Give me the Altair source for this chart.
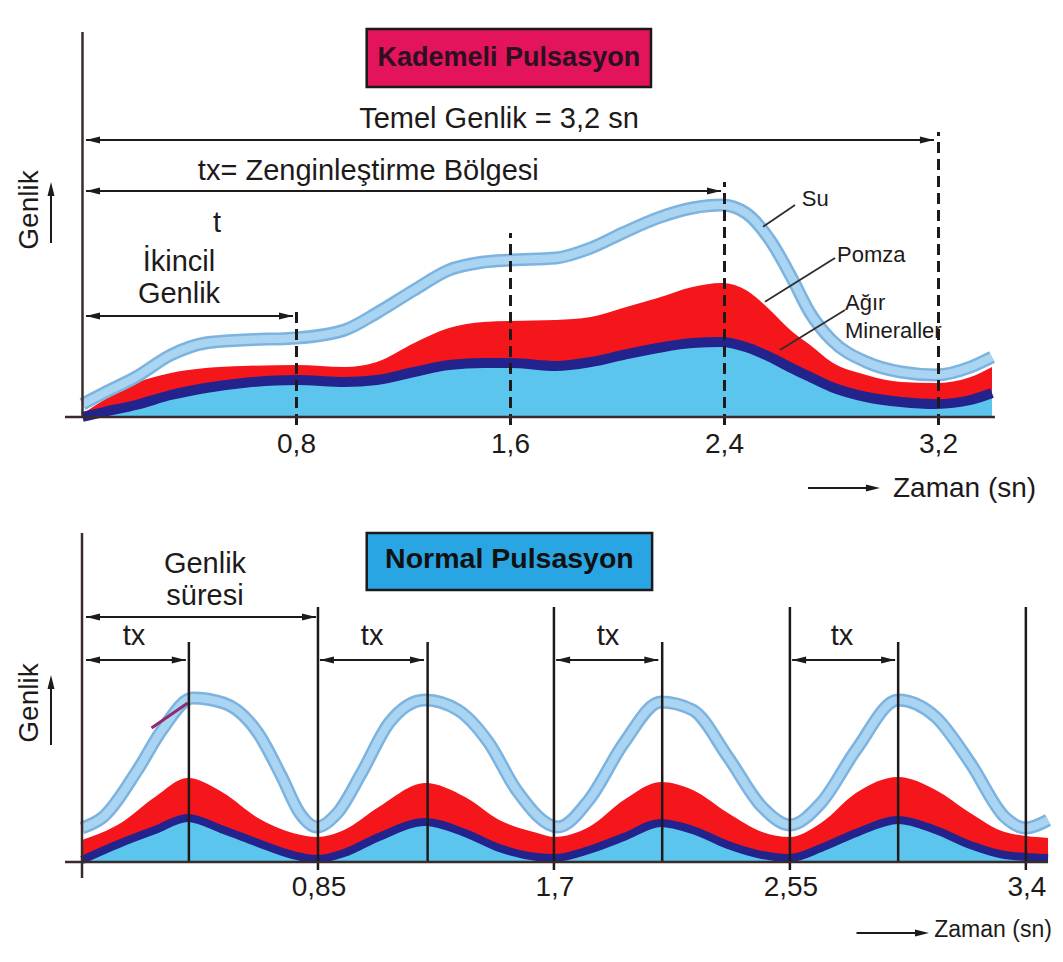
import altair as alt
import pandas as pd

# ---------------- data ----------------
# Üst panel: Kademeli Pulsasyon (zaman sn, genlik: göreli birim)
TOP_T     = [0.0, 0.08, 0.2, 0.33, 0.46, 0.6, 0.8, 0.98, 1.1, 1.24, 1.37, 1.5, 1.6, 1.77, 1.9,
             2.02, 2.15, 2.28, 2.39, 2.48, 2.57, 2.65, 2.72, 2.8, 2.93, 3.06, 3.19, 3.32, 3.4]
TOP_SU    = [13, 24, 40, 62, 74, 77, 79, 87, 104, 127, 147, 155, 157, 159, 169,
             184, 199, 209, 212, 204, 177, 140, 104, 77, 55, 45, 42, 50, 60]
TOP_POMZA = [3, 17, 34, 44, 49, 51, 52, 50, 55, 74, 89, 95, 96, 97, 100,
             109, 119, 130, 134, 127, 107, 86, 72, 55, 42, 35, 34, 40, 50]
TOP_AGIR  = [0, 5, 12, 22, 29, 34, 37, 35, 37, 45, 52, 54, 54, 51, 55,
             62, 69, 74, 75, 70, 60, 49, 40, 30, 20, 15, 13, 17, 24]
TOP_TICKS = [0.8, 1.6, 2.4, 3.2]
TOP_TICK_LABELS = ["0,8", "1,6", "2,4", "3,2"]
TOP_DASH_TOPS = [110, 184, 235, 285]

# Alt panel: Normal Pulsasyon
BOT_T     = [0.0, 0.14, 0.263, 0.38, 0.51, 0.634, 0.759, 0.846, 0.944, 1.069,
             1.236, 1.38, 1.503, 1.64, 1.70, 1.826, 1.952, 2.085, 2.2, 2.327,
             2.45, 2.55, 2.662, 2.788, 2.94, 3.075, 3.2, 3.324, 3.48]
BOT_POMZA = [22, 39, 65, 84, 69, 44, 29, 25, 32, 55,
             79, 65, 42, 29, 25, 35, 62, 80, 72, 49,
             30, 25, 39, 69, 85, 72, 49, 30, 24]
BOT_AGIR  = [2, 19, 32, 44, 32, 19, 7, 3, 9, 25,
             40, 29, 14, 5, 4, 12, 25, 39, 32, 17,
             7, 4, 14, 29, 42, 32, 17, 7, 4]
BOT_SU_T  = [0.0, 0.076, 0.2, 0.288, 0.399, 0.51, 0.634, 0.72, 0.784, 0.846,
             0.92, 1.007, 1.106, 1.236, 1.354, 1.466, 1.565, 1.715, 1.826, 1.952,
             2.085, 2.2, 2.327, 2.45, 2.55, 2.662, 2.788, 2.94, 3.075, 3.2,
             3.324, 3.399, 3.48]
BOT_SU    = [34, 45, 92, 132, 164, 159, 129, 85, 49, 35,
             49, 89, 139, 162, 152, 119, 72, 35, 62, 119,
             160, 152, 105, 55, 37, 59, 112, 162, 145, 99,
             45, 34, 42]
BOT_TICKS = [0.85, 1.7, 2.55, 3.4]
BOT_TICK_LABELS = ["0,85", "1,7", "2,55", "3,4"]
BOT_PEAKS = [0.385, 1.245, 2.09, 2.94]
BOT_TX_START = [0.0144, 0.857, 1.708, 2.558]
BOT_TX_END = [0.374, 1.232, 2.076, 2.929]
BOT_TX_LABEL_T = [0.187, 1.045, 1.895, 2.738]

# ---------------- styling ----------------
FONT = "Liberation Sans"
LIGHT = "#5CC5EE"
RED = "#F5161B"
DARK = "#22238C"
SU_EDGE = "#7DB3DF"
SU_FILL = "#A9D4F2"
INK = "#1E1A1A"
AXIS = "#3A2B2B"

W, H = 1047, 936
TOP_XD = [-0.2785, 3.6355]
TOP_YD = [-527, 409]
BOT_XD = [-0.2666, 3.5050]
BOT_YD = [-82, 854]

ARROW_R = "M0,0L-2,-0.5L-2,0.5Z"
ARROW_L = "M0,0L2,-0.5L2,0.5Z"
ARROW_U = "M0,0L-0.5,2L0.5,2Z"


def X(f, d):
    return alt.X(f, type="quantitative", scale=alt.Scale(domain=d, nice=False, zero=False), axis=None)


def Y(f, d):
    return alt.Y(f, type="quantitative", scale=alt.Scale(domain=d, nice=False, zero=False), axis=None)


def segs(rows, xd, yd, color=INK, width=2.0, dash=None):
    df = pd.DataFrame(rows, columns=["t", "h", "t2", "h2"])
    kw = dict(color=color, strokeWidth=width, strokeCap="butt")
    if dash:
        kw["strokeDash"] = dash
    return alt.Chart(df).mark_rule(**kw).encode(
        x=X("t", xd), y=Y("h", yd), x2=alt.X2("t2"), y2=alt.Y2("h2"))


def heads(rows, xd, yd, size=196):
    df = pd.DataFrame(rows, columns=["t", "h", "shape"])
    return alt.Chart(df).mark_point(filled=True, size=size, opacity=1, color=INK, strokeWidth=0).encode(
        x=X("t", xd), y=Y("h", yd), shape=alt.Shape("shape:N", scale=None))


def texts(rows, xd, yd, size=29, weight="normal", align="center", angle=0, color=INK, dx=0):
    df = pd.DataFrame(rows, columns=["t", "h", "label"])
    return alt.Chart(df).mark_text(font=FONT, fontSize=size, fontWeight=weight, align=align,
                                   baseline="alphabetic", angle=angle, color=color, dx=dx).encode(
        x=X("t", xd), y=Y("h", yd), text="label:N")


def box(t1, t2, h1, h2, fill, xd, yd):
    df = pd.DataFrame([{"t": t1, "t2": t2, "h": h1, "h2": h2}])
    return alt.Chart(df).mark_rect(fill=fill, stroke="#1A1A1A", strokeWidth=2.5).encode(
        x=X("t", xd), x2=alt.X2("t2"), y=Y("h", yd), y2=alt.Y2("h2"))


def curves(df, su_df, xd, yd, dark_w):
    light = alt.Chart(df).mark_area(color=LIGHT, interpolate="monotone").encode(
        x=X("t", xd), y=Y("agir", yd), y2=alt.Y2("zero"))
    red = alt.Chart(df).mark_area(color=RED, interpolate="monotone").encode(
        x=X("t", xd), y=Y("pomza", yd), y2=alt.Y2("agir"))
    dark = alt.Chart(df).mark_line(color=DARK, strokeWidth=dark_w, interpolate="monotone").encode(
        x=X("t", xd), y=Y("agir", yd))
    su_o = alt.Chart(su_df).mark_line(color=SU_EDGE, strokeWidth=13, interpolate="monotone").encode(
        x=X("t", xd), y=Y("su", yd))
    su_i = alt.Chart(su_df).mark_line(color=SU_FILL, strokeWidth=8, interpolate="monotone").encode(
        x=X("t", xd), y=Y("su", yd))
    return [light, red, dark, su_o, su_i]


# ---------------- top panel: Kademeli Pulsasyon ----------------
top_df = pd.DataFrame({"t": TOP_T, "pomza": TOP_POMZA, "agir": TOP_AGIR})
top_df["zero"] = 0
top_su = pd.DataFrame({"t": TOP_T, "su": TOP_SU})
xd, yd = TOP_XD, TOP_YD
top_layers = curves(top_df, top_su, xd, yd, 10)
top_layers += [
    segs([(t, -8, t, h) for t, h in zip(TOP_TICKS, TOP_DASH_TOPS)], xd, yd, INK, 3, [11, 6]),
    segs([(0, 0, 0, 385), (-0.0654, 0, 3.411, 0)], xd, yd, AXIS, 2.5),
    segs([(0.013, 277, 3.183, 277), (0.013, 226, 2.387, 226), (0.013, 101, 0.787, 101),
          (2.712, -71, 2.96, -71), (-0.1178, 174, -0.1178, 225)], xd, yd, INK, 2),
    heads([(0.013, 277, ARROW_L), (3.183, 277, ARROW_R), (0.013, 226, ARROW_L), (2.387, 226, ARROW_R),
           (0.013, 101, ARROW_L), (0.787, 101, ARROW_R), (2.981, -71, ARROW_R),
           (-0.1178, 235, ARROW_U)], xd, yd),
    segs([(2.5439, 190.3, 2.6636, 212), (2.5514, 115.3, 2.8131, 159), (2.6075, 67, 2.8505, 107)],
         xd, yd, "#2E2E2E", 1.8),
    box(1.0624, 2.1252, 388, 330, "#E3135C", xd, yd),
    texts([(1.5938, 351, "Kademeli Pulsasyon")], xd, yd, size=27, weight="bold", color="#2A1020"),
    texts([(1.557, 289, "Temel Genlik = 3,2 sn"), (1.0685, 237, "tx= Zenginleştirme Bölgesi"),
           (0.5028, 185, "t"), (0.3607, 146, "İkincil"), (0.3607, 114, "Genlik")], xd, yd),
    texts([(-0.1664, 207, "Genlik")], xd, yd, size=28, angle=270),
    texts([(2.6886, 211, "Su"), (2.8206, 155, "Pomza"), (2.8505, 107, "Ağır"), (2.8505, 79, "Mineraller")],
          xd, yd, size=22, align="left"),
    texts([(3.0299, -80, "Zaman (sn)")], xd, yd, size=28, align="left"),
    texts([(t, -36, lab) for t, lab in zip(TOP_TICKS, TOP_TICK_LABELS)], xd, yd, size=28),
]
top = alt.layer(*top_layers)

# ---------------- bottom panel: Normal Pulsasyon ----------------
bot_df = pd.DataFrame({"t": BOT_T, "pomza": BOT_POMZA, "agir": BOT_AGIR})
bot_df["zero"] = 0
bot_su = pd.DataFrame({"t": BOT_SU_T, "su": BOT_SU})
xd, yd = BOT_XD, BOT_YD
bot_layers = curves(bot_df, bot_su, xd, yd, 8)
bot_layers += [
    segs([(0.2504, 134, 0.3808, 159)], xd, yd, "#8E2C6E", 3),
    segs([(t, -8, t, 255) for t in BOT_TICKS] + [(t, 0, t, 220) for t in BOT_PEAKS], xd, yd, INK, 2.5),
    segs([(0, -16, 0, 329), (-0.0612, 0, 3.48, 0)], xd, yd, AXIS, 2.5),
    segs([(0.0144, 245, 0.843, 245)] + [(a, 202, b, 202) for a, b in zip(BOT_TX_START, BOT_TX_END)]
         + [(2.79, -71, 3.03, -71), (-0.1117, 117, -0.1117, 177)], xd, yd, INK, 2),
    heads([(0.0144, 245, ARROW_L), (0.843, 245, ARROW_R)]
          + [(a, 202, ARROW_L) for a in BOT_TX_START] + [(b, 202, ARROW_R) for b in BOT_TX_END]
          + [(3.051, -71, ARROW_R), (-0.1117, 187, ARROW_U)], xd, yd),
    box(1.0256, 2.0537, 329, 272, "#2AA5E4", xd, yd),
    texts([(1.5397, 294, "Normal Pulsasyon")], xd, yd, size=28.5, weight="bold", color="#111111"),
    texts([(0.443, 289, "Genlik"), (0.443, 257, "süresi")]
          + [(t, 217, "tx") for t in BOT_TX_LABEL_T], xd, yd),
    texts([(-0.1585, 159, "Genlik")], xd, yd, size=28, angle=270),
    texts([(3.070, -75, "Zaman (sn)")], xd, yd, size=23, align="left"),
    texts([(t, -34, lab) for t, lab in zip(BOT_TICKS, BOT_TICK_LABELS)], xd, yd, size=28, dx=1),
]
bot = alt.layer(*bot_layers)

chart = alt.layer(top, bot).resolve_scale(x="independent", y="independent").properties(
    width=W, height=H, padding=0, background="white",
    autosize=alt.AutoSizeParams(type="none"),
).configure_view(stroke=None)

chart.save("out.html", embed_options={"renderer": "svg", "actions": False})
